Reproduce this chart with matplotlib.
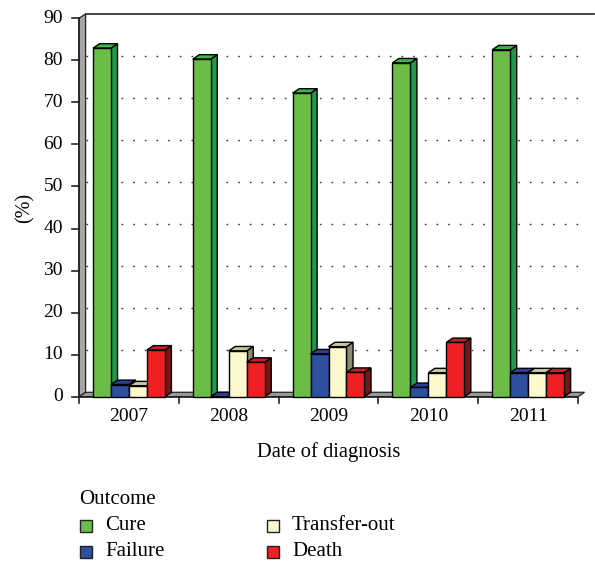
import numpy as np
import matplotlib
matplotlib.use("Agg")
import matplotlib.pyplot as plt
from matplotlib.patches import Polygon, Rectangle

years = ["2007", "2008", "2009", "2010", "2011"]
outcomes = ["Cure", "Failure", "Transfer-out", "Death"]
cure = [82.9, 80.3, 72.2, 79.4, 82.5]
failure = [2.9, 0.0, 10.2, 2.2, 5.7]
transfer = [2.6, 10.9, 11.9, 5.7, 5.7]
death = [11.1, 8.2, 5.8, 12.9, 5.7]
yticks = [0, 10, 20, 30, 40, 50, 60, 70, 80, 90]

# front, top, side colours per series
colors = {
    "Cure": ("#6cbd45", "#3db54a", "#1f9a48"),
    "Failure": ("#2e4e9f", "#2b3f8f", "#1f2f7a"),
    "Transfer-out": ("#fcf8ce", "#c8c5a0", "#8c8a70"),
    "Death": ("#ee2024", "#c8202a", "#7b1416"),
}

plt.rcParams["font.family"] = ["Liberation Serif", "DejaVu Serif"]
W, H = 595, 563
fig = plt.figure(figsize=(W / 100, H / 100), dpi=100)


def fx(px):
    return px / W


def fy(py):
    return 1 - py / H


ax = fig.add_axes([fx(79), fy(396.7), fx(578) - fx(79), fy(18.3) - fy(396.7)])
ax.set_xlim(-0.5, 4.5)
ax.set_ylim(0, 90)
ax.axis("off")

dx, dy = 0.066, 1.05
x0, x1 = -0.5, 4.5
edge = "#222222"

# left wall and floor
ax.add_patch(Polygon([(x0, 0), (x0 + dx, dy), (x0 + dx, 90 + dy), (x0, 90)],
                     closed=True, fc="#a6a6a6", ec=edge, lw=0.9, clip_on=False, zorder=1))
ax.add_patch(Polygon([(x0, 0), (x1, 0), (x1 + dx, dy), (x0 + dx, dy)],
                     closed=True, fc="#999999", ec=edge, lw=0.9, clip_on=False, zorder=1))
# back wall top edge
ax.plot([x0 + dx, 4.66], [90 + dy, 90 + dy], color=edge, lw=1.2, clip_on=False, zorder=1)

# dotted grid on back wall
for v in yticks[1:-1]:
    ax.plot([x0 + dx, x1 + dx], [v + dy, v + dy], color="#333333", lw=1.0,
            dashes=[1.2, 7.2], clip_on=False, zorder=0.5)

# axes lines and ticks
ax.plot([x0, x0], [0, 90], color=edge, lw=1.2, clip_on=False, zorder=2)
ax.plot([x0, x1], [0, 0], color=edge, lw=1.2, clip_on=False, zorder=2)
for v in yticks:
    ax.plot([x0 - 0.07, x0], [v, v], color=edge, lw=1.2, clip_on=False, zorder=2)
    ax.text(x0 - 0.16, v, str(v), ha="right", va="center", fontsize=14)
for b in np.arange(-0.5, 5.0, 1.0):
    ax.plot([b, b], [0, -1.6], color=edge, lw=1.2, clip_on=False, zorder=2)
for i, yr in enumerate(years):
    ax.text(i, -2.6, yr, ha="center", va="top", fontsize=14)

ax.text(0.5, -0.147, "Date of diagnosis", transform=ax.transAxes,
        ha="center", va="center", fontsize=14.8)
ax.text(-0.108, 0.5, "(%)", transform=ax.transAxes, rotation=90,
        ha="center", va="center", fontsize=14.5)

# pseudo-3D bars
series = [cure, failure, transfer, death]
w = 0.18
z = 3
for i in range(len(years)):
    for j, name in enumerate(outcomes):
        v = series[j][i]
        front, top, side = colors[name]
        left = i - 2 * w + j * w
        ax.add_patch(Polygon([(left + w, 0), (left + w + dx, dy), (left + w + dx, v + dy), (left + w, v)],
                             closed=True, fc=side, ec="black", lw=1.0, zorder=z, clip_on=False))
        ax.add_patch(Polygon([(left, v), (left + dx, v + dy), (left + w + dx, v + dy), (left + w, v)],
                             closed=True, fc=top, ec="black", lw=1.0, zorder=z, clip_on=False))
        ax.bar(left, v, width=w, align="edge", color=front, edgecolor="black",
               lw=1.0, zorder=z + 0.5, clip_on=False)
        z += 1

# legend
fig.text(fx(79), fy(499), "Outcome", ha="left", va="center", fontsize=15)
legend_pos = [(80, 526, 105), (80, 552, 105), (267, 526, 292), (267, 552, 292)]
for name, (sx, sy, tx) in zip(outcomes, legend_pos):
    fig.patches.append(Rectangle((fx(sx), fy(sy + 6)), fx(12), 12 / H, transform=fig.transFigure,
                                 fc=colors[name][0], ec="#222222", lw=1.0))
    fig.text(fx(tx), fy(sy), name, ha="left", va="center", fontsize=15)

fig.savefig("out.png", dpi=100)
